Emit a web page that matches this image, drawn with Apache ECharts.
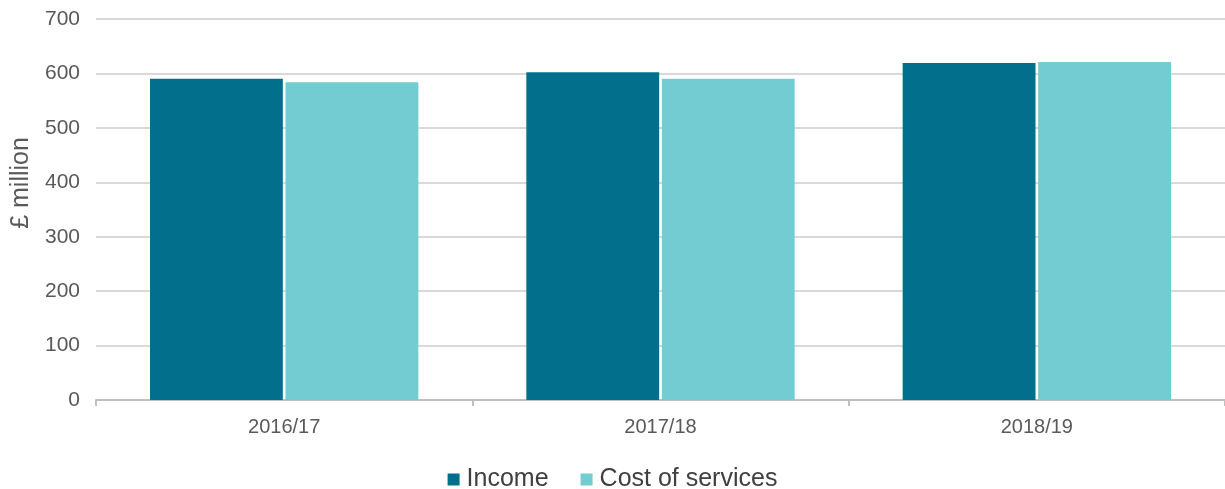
<!DOCTYPE html>
<html><head><meta charset="utf-8">
<script src="https://cdn.jsdelivr.net/npm/echarts@6/dist/echarts.min.js"></script>
<style>html,body{margin:0;padding:0;background:#fff}#c{width:1225px;height:489px}</style>
</head><body><div id="c"></div>
<script>
const categories = ['2016/17', '2017/18', '2018/19'];
const income = [590, 602, 619];
const costOfServices = [584, 590, 621];
const yTicks = { min: 0, max: 700, interval: 100 };
const yTitle = '£ million';

const FONT = 'Liberation Sans, Arial, sans-serif';
const chart = echarts.init(document.getElementById('c'));
chart.setOption({
  animation: false,
  textStyle: { fontFamily: FONT },
  grid: { left: 96, right: -3, top: 19, bottom: 89, containLabel: false },
  legend: {
    top: 462, left: 'center',
    itemWidth: 12, itemHeight: 12, itemGap: 32,
    icon: 'rect',
    textStyle: { fontSize: 25, color: '#404040', fontFamily: FONT, padding: [0, 0, 0, 2] },
    data: ['Income', 'Cost of services']
  },
  xAxis: {
    type: 'category', data: categories,
    axisLine: { lineStyle: { color: '#bfbfbf', width: 2 } },
    axisTick: { show: true, length: 6, lineStyle: { color: '#bfbfbf', width: 2 } },
    axisLabel: { fontSize: 20, color: '#595959', margin: 17 }
  },
  yAxis: {
    type: 'value', min: yTicks.min, max: yTicks.max, interval: yTicks.interval,
    axisLine: { show: false }, axisTick: { show: false },
    axisLabel: { fontSize: 21, color: '#595959', margin: 16 },
    splitLine: { lineStyle: { color: '#d9d9d9', width: 2 } }
  },
  graphic: [{
    type: 'text', x: 21, y: 183, rotation: Math.PI / 2,
    style: { text: yTitle, fill: '#595959', font: '25px ' + FONT,
             align: 'center', verticalAlign: 'middle' }
  }],
  series: [
    { name: 'Income', type: 'bar', data: income, barWidth: '35.3%', barGap: '2%',
      itemStyle: { color: '#02708C' } },
    { name: 'Cost of services', type: 'bar', data: costOfServices, barWidth: '35.3%',
      itemStyle: { color: '#74CCD3' } }
  ]
});
</script></body></html>
